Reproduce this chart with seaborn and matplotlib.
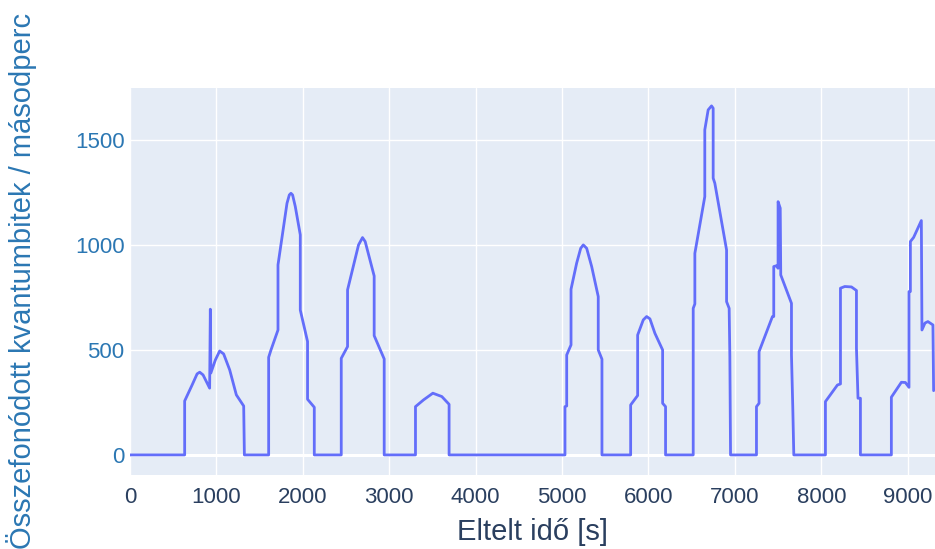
import matplotlib
matplotlib.use("Agg")
import matplotlib.pyplot as plt
import pandas as pd
import seaborn as sns

# elapsed time [s] and entangled qubits per second
elapsed_s = [
    0, 633, 633, 719, 777, 807, 846, 922, 930, 936, 988, 1038, 1084, 1154, 1231, 1316, 1324,
    1605, 1605, 1632, 1713, 1713, 1817, 1844, 1863, 1882, 1913, 1971, 1971, 2055, 2055, 2133, 2133,
    2445, 2445, 2518, 2518, 2645, 2691, 2722, 2826, 2826, 2942, 2942,
    3304, 3304, 3397, 3505, 3609, 3693, 3693,
    5034, 5034, 5054, 5054, 5104, 5104, 5169, 5216, 5246, 5285, 5343, 5419, 5419, 5462, 5462,
    5794, 5794, 5875, 5875, 5940, 5979, 6017, 6075, 6164, 6164, 6198, 6198,
    6518, 6518, 6537, 6537, 6652, 6652, 6691, 6730, 6749, 6749, 6768, 6904, 6904, 6934, 6942, 6950,
    7250, 7250, 7280, 7280, 7435, 7450, 7450, 7482, 7500, 7500, 7525, 7531, 7655, 7655, 7670, 7682,
    8048, 8048, 8187, 8222, 8222, 8272, 8349, 8407, 8407, 8425, 8453, 8453,
    8811, 8811, 8927, 8973, 9015, 9015, 9031, 9031, 9069, 9158, 9165, 9200, 9234, 9292, 9300,
]
qubits_per_s = [
    0, 0, 257, 333, 386, 394, 381, 318, 694, 390, 452, 495, 481, 405, 286, 233, 0,
    0, 465, 500, 595, 905, 1198, 1238, 1246, 1238, 1183, 1048, 690, 540, 265, 227, 0,
    0, 460, 516, 786, 1000, 1035, 1016, 852, 568, 457, 0,
    0, 230, 262, 294, 278, 241, 0,
    0, 230, 233, 476, 524, 789, 913, 984, 1000, 984, 897, 754, 500, 456, 0,
    0, 238, 283, 571, 643, 659, 648, 579, 500, 246, 230, 0,
    0, 698, 719, 960, 1230, 1548, 1643, 1662, 1651, 1318, 1294, 976, 730, 698, 470, 0,
    0, 230, 246, 492, 659, 659, 897, 901, 889, 1206, 1175, 857, 722, 476, 230, 0,
    0, 254, 333, 338, 794, 802, 800, 783, 508, 270, 270, 0,
    0, 275, 346, 345, 322, 778, 778, 1016, 1036, 1116, 595, 628, 635, 619, 306,
]

x_ticks = [0, 1000, 2000, 3000, 4000, 5000, 6000, 7000, 8000, 9000]
y_ticks = [0, 500, 1000, 1500]

df = pd.DataFrame({"t": elapsed_s, "q": qubits_per_s})

sns.set_theme(style="darkgrid", rc={
    "axes.facecolor": "#e5ecf6",
    "figure.facecolor": "white",
    "grid.color": "white",
    "grid.linewidth": 1.0,
    "axes.edgecolor": "#e5ecf6",
})
plt.rcParams["font.family"] = ["Liberation Sans", "DejaVu Sans"]

fig = plt.figure(figsize=(9.35, 5.49), dpi=100)
ax = fig.add_axes([0.139, 0.135, 0.861, 0.705])

sns.lineplot(data=df, x="t", y="q", ax=ax, sort=False, estimator=None,
             color="#636efa", linewidth=2.0)

ax.axhline(0, color="white", linewidth=2.2, zorder=1)
ax.set_xlim(0, 9316)
ax.set_ylim(-95, 1748)
ax.set_xticks(x_ticks)
ax.set_yticks(y_ticks)
ax.set_xticklabels([str(v) for v in x_ticks])
ax.set_yticklabels([str(v) for v in y_ticks])
ax.tick_params(axis="x", labelsize=16, labelcolor="#2a3f5f", length=0, pad=9)
ax.tick_params(axis="y", labelsize=16, labelcolor="#2b77b3", length=0, pad=4)

ax.set_xlabel("Eltelt idő [s]", fontsize=21, color="#2a3f5f", labelpad=7)
ax.set_ylabel("Összefonódott kvantumbitek / másodperc", fontsize=21, color="#2b77b3", labelpad=27)
for spine in ax.spines.values():
    spine.set_visible(False)

fig.savefig("out.png", dpi=100)
plt.close(fig)
